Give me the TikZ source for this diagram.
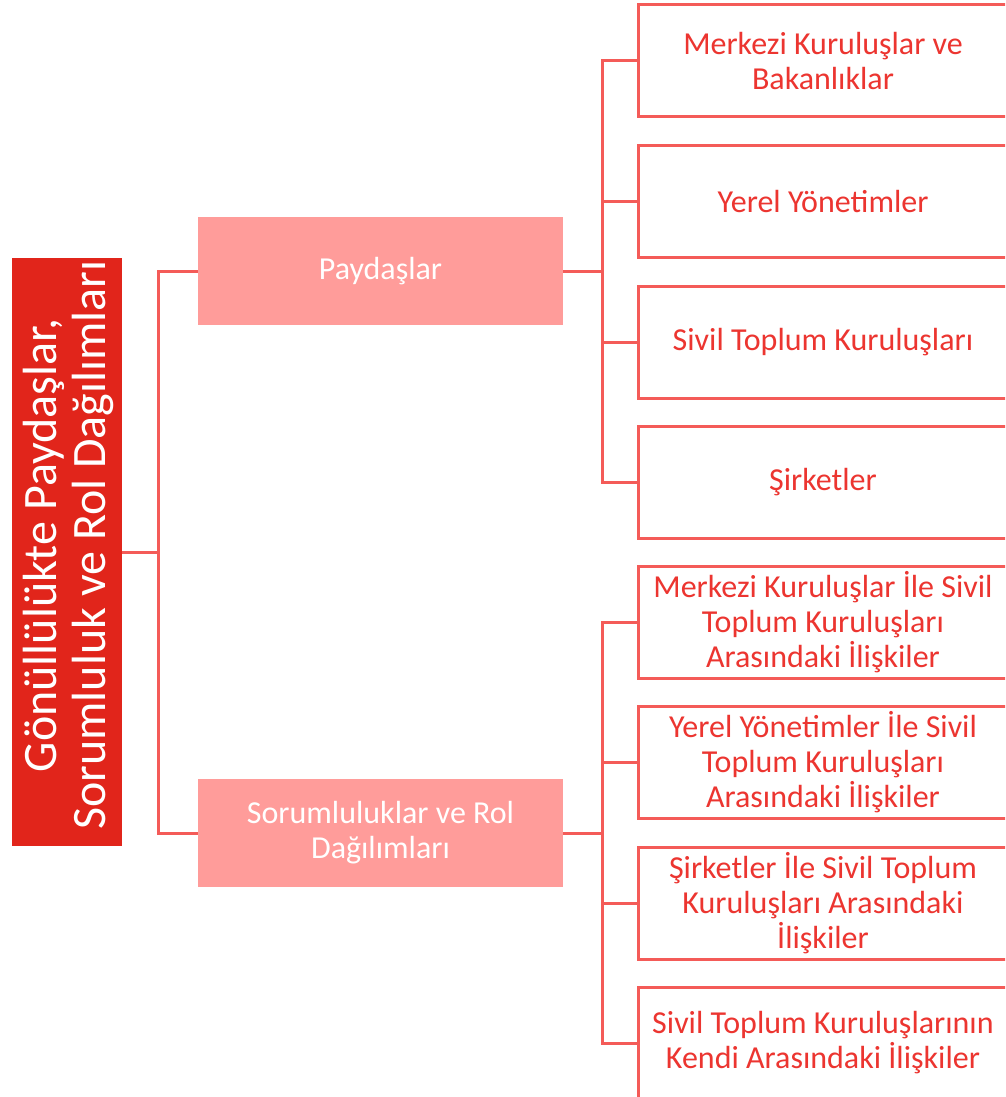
\documentclass[tikz,border=0pt]{standalone}
\usepackage{fontspec}
\setmainfont{Carlito}
\definecolor{mainred}{HTML}{E1251B}
\definecolor{pinkfill}{HTML}{FF9C9A}
\definecolor{linered}{HTML}{F45B58}
\definecolor{textred}{HTML}{EC3530}
\begin{document}
\begin{tikzpicture}[x=1pt,y=-1pt,
  mainbox/.style={rectangle, fill=mainred, minimum width=110pt, minimum height=588pt, inner sep=0pt},
  maintext/.style={rotate=90, inner sep=0pt, text=white, align=center, font=\fontsize{48}{49}\selectfont},
  midbox/.style={rectangle, fill=pinkfill, minimum width=365pt, minimum height=108pt, inner sep=0pt, text=white, align=center, font=\fontsize{32}{35}\selectfont},
  leafbox/.style={rectangle, draw=linered, line width=3pt, fill=white, minimum width=370pt, minimum height=112pt, inner sep=0pt, text=textred, align=center, font=\fontsize{32}{35}\selectfont},
  conn/.style={draw=linered, line width=3pt}]
\clip (0,0) rectangle (1005,1097);
\fill[white] (0,0) rectangle (1005,1097);

\node[mainbox] (main) at (67,552) {};
\node[maintext] (mainlabel) at (68,545) {Gönüllülükte Paydaşlar,\\Sorumluluk ve Rol Dağılımları};
\node[midbox] (p1) at (380.5,271) {Paydaşlar};
\node[midbox] (p2) at (380.5,833) {Sorumluluklar ve Rol\\Dağılımları};

\node[leafbox] (r1) at (823,61) {Merkezi Kuruluşlar ve\\Bakanlıklar};
\node[leafbox] (r2) at (823,201.5) {Yerel Yönetimler};
\node[leafbox] (r3) at (823,342) {Sivil Toplum Kuruluşları};
\node[leafbox] (r4) at (823,482.5) {Şirketler};
\node[leafbox] (r5) at (823,622) {Merkezi Kuruluşlar İle Sivil\\Toplum Kuruluşları\\Arasındaki İlişkiler};
\node[leafbox] (r6) at (823,762.5) {Yerel Yönetimler İle Sivil\\Toplum Kuruluşları\\Arasındaki İlişkiler};
\node[leafbox] (r7) at (823,903) {Şirketler İle Sivil Toplum\\Kuruluşları Arasındaki\\İlişkiler};
\node[leafbox] (r8) at (823,1043) {Sivil Toplum Kuruluşlarının\\Kendi Arasındaki İlişkiler};

\coordinate (busA) at (158,552);
\coordinate (busB) at (602,271);
\coordinate (busC) at (602,833);

% left bus
\draw[conn] (main.east) -- (busA);
\draw[conn] (p1.west) -| (busA) |- (p2.west);

% upper right bus
\draw[conn] (p1.east) -- (busB);
\draw[conn] (r1.west) -| (busB) |- (r4.west);
\draw[conn] (r2.west) -- (r2.west -| busB);
\draw[conn] (r3.west) -- (r3.west -| busB);

% lower right bus
\draw[conn] (p2.east) -- (busC);
\draw[conn] (r5.west) -| (busC) |- (r8.west);
\draw[conn] (r6.west) -- (r6.west -| busC);
\draw[conn] (r7.west) -- (r7.west -| busC);
\end{tikzpicture}
\end{document}
